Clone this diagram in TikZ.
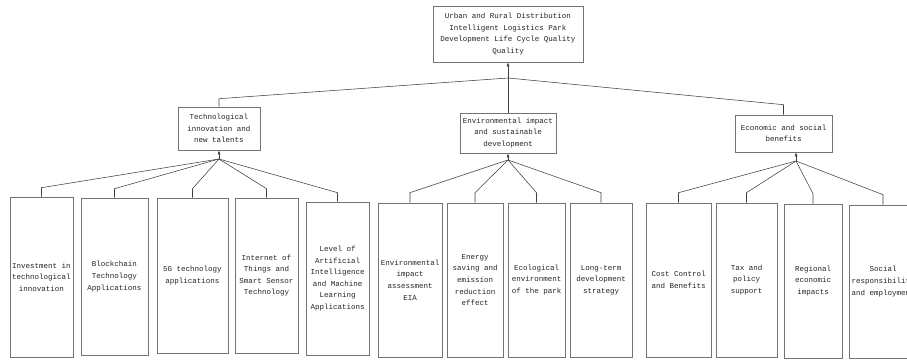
\documentclass[tikz,border=0pt]{standalone}
\usepackage{fontspec}
\setmonofont{Liberation Mono}
\usetikzlibrary{arrows.meta,shadows}
\definecolor{boxline}{gray}{0.45}
\definecolor{conline}{gray}{0.25}
\definecolor{txt}{gray}{0.15}
\tikzset{
  box/.style={draw=boxline, line width=0.6pt, fill=white, inner sep=0pt,
    align=center, text=txt, font=\ttfamily\fontsize{7.5pt}{11.6pt}\selectfont,
    drop shadow={shadow xshift=1.2pt, shadow yshift=-1.2pt, fill=black!22, opacity=1}},
  con/.style={draw=conline, line width=0.55pt},
  upar/.style={con, -{Latex[length=4pt,width=3pt]}}
}
\begin{document}
\begin{tikzpicture}[x=1pt,y=-1pt]
\useasboundingbox (0,0) rectangle (907,361);
\clip (0,0) rectangle (907,361);
% top
\node[box, minimum width=150, minimum height=56] (top) at (508,34)
  {Urban and Rural Distribution\\Intelligent Logistics Park\\Development Life Cycle Quality\\Quality};
% level 2
\node[box, minimum width=82, minimum height=43] (tech) at (219,128.5)
  {Technological\\innovation and\\new talents};
\node[box, minimum width=96, minimum height=40] (env) at (508,133)
  {Environmental impact\\and sustainable\\development};
\node[box, minimum width=97, minimum height=37] (econ) at (783.5,133.5)
  {Economic and social\\benefits};
% level 3
\node[box, minimum width=63, minimum height=160] (b1) at (41.5,277) {Investment in\\technological\\innovation};
\node[box, minimum width=67, minimum height=157] (b2) at (114.5,276.5) {Blockchain\\Technology\\Applications};
\node[box, minimum width=71, minimum height=155] (b3) at (192.5,275.5) {5G technology\\applications};
\node[box, minimum width=63, minimum height=155] (b4) at (266.5,275.5) {Internet of\\Things and\\Smart Sensor\\Technology};
\node[box, minimum width=63, minimum height=153] (b5) at (337.5,278.5) {Level of\\Artificial\\Intelligence\\and Machine\\Learning\\Applications};
\node[box, minimum width=64, minimum height=154] (b6) at (410,280) {Environmental\\impact\\assessment\\EIA};
\node[box, minimum width=56, minimum height=154] (b7) at (475,280) {Energy\\saving and\\emission\\reduction\\effect};
\node[box, minimum width=57, minimum height=154] (b8) at (536.5,280) {Ecological\\environment\\of the park};
\node[box, minimum width=62, minimum height=154] (b9) at (601,280) {Long-term\\development\\strategy};
\node[box, minimum width=65, minimum height=154] (b10) at (678.5,280) {Cost Control\\and Benefits};
\node[box, minimum width=61, minimum height=154] (b11) at (746.5,280) {Tax and\\policy\\support};
\node[box, minimum width=58, minimum height=154] (b12) at (813,281) {Regional\\economic\\impacts};
\node[box, minimum width=68, minimum height=153] (b13) at (883,281.5) {Social\\responsibility\\and employment};
% junctions
\coordinate (jtop) at (508,78);
\coordinate (jtech) at (219,159);
\coordinate (jenv) at (508,160);
\coordinate (jecon) at (796,161);
% top level connectors
\draw[upar] (jtop) -- (top.south);
\draw[con] (tech.north) -- ++(0,-8) -- (jtop);
\draw[con] (env.north) -- (jtop);
\draw[con] (econ.north) -- ++(0,-10) -- (jtop);
% arrows into level 2
\draw[upar] (jtech) -- (tech.south);
\draw[upar] (jenv) -- (env.south);
\draw[upar] (jecon) -- (jecon |- econ.south);
% fans
\foreach \b in {b1,b2,b3,b4,b5}
  \draw[con] (\b.north) -- ++(0,-9) -- (jtech);
\foreach \b in {b6,b7,b8,b9}
  \draw[con] (\b.north) -- ++(0,-10) -- (jenv);
\foreach \b in {b10,b11,b12,b13}
  \draw[con] (\b.north) -- ++(0,-10) -- (jecon);
\end{tikzpicture}
\end{document}
